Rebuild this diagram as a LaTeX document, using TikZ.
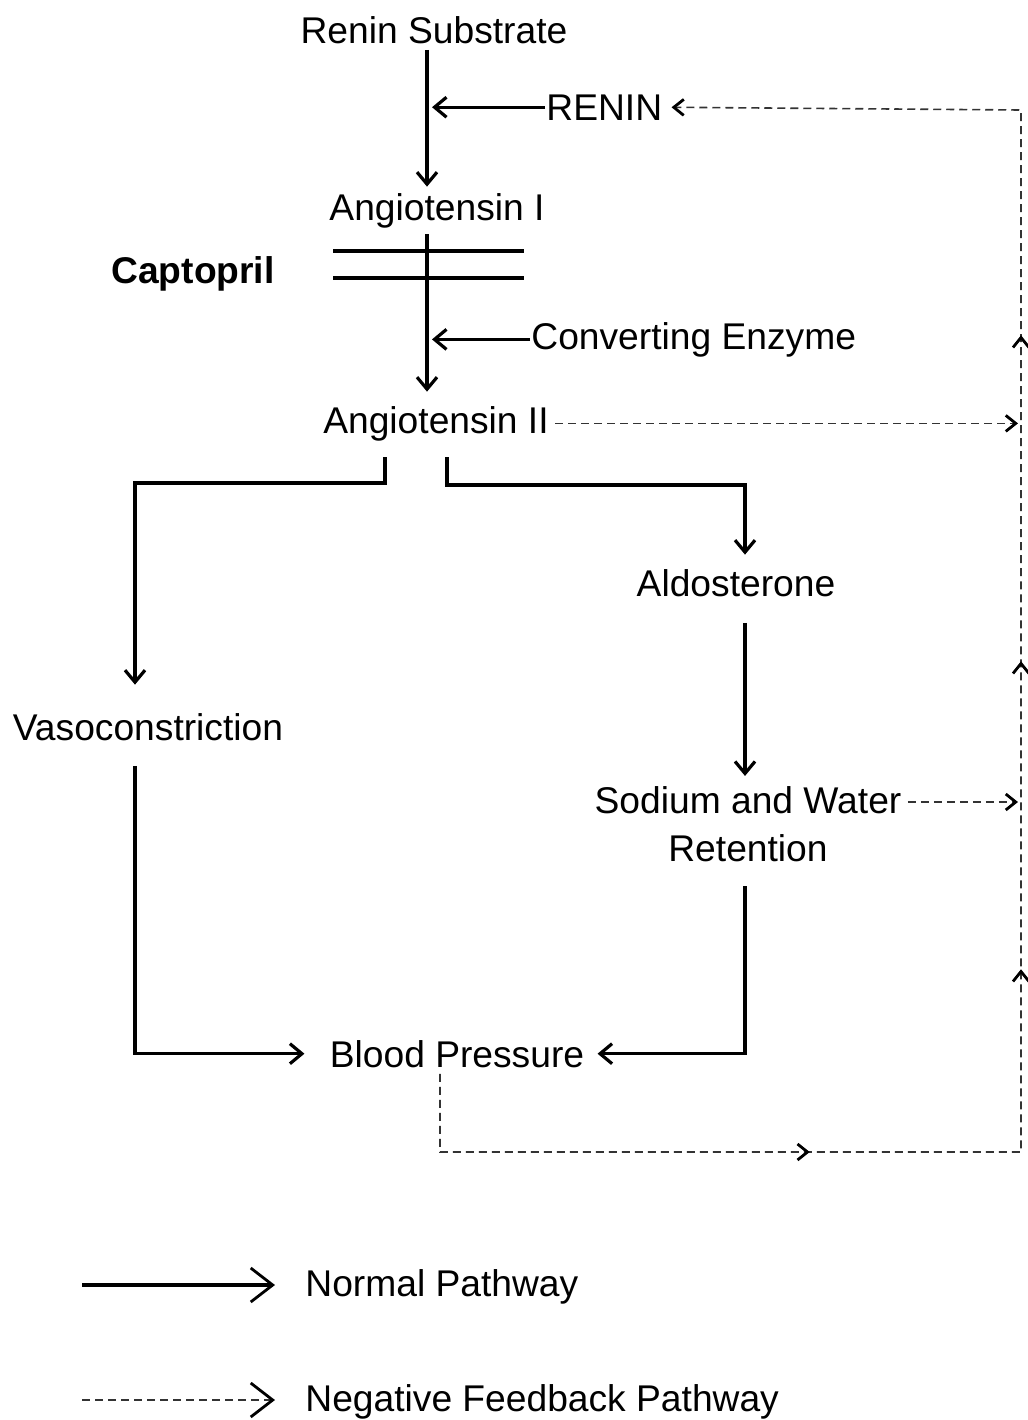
\documentclass[tikz,border=0pt]{standalone}
\usepackage{fontspec}
\setmainfont{Liberation Sans}
\usetikzlibrary{arrows.meta}
\usetikzlibrary{decorations.markings}

\begin{document}
\begin{tikzpicture}[x=0.5pt, y=-0.5pt,
  every node/.style={font=\fontsize{18.6}{24}\selectfont, inner sep=3pt},
  normal/.style={line width=1.6pt, -{Straight Barb[length=6pt,width=10pt,line width=1.6pt]}},
  feedback/.style={line width=0.8pt, dash pattern=on 4pt off 2.5pt, black!80},
  fbtip/.style={-{Straight Barb[length=5pt,width=8pt,line width=1.4pt,color=black]}},
  bigtip/.style={-{Straight Barb[length=11pt,width=17pt,line width=1.4pt,color=black]}}]
\useasboundingbox (0,0) rectangle (1028,1420);

\node[anchor=base] (sub) at (434,43) {Renin Substrate};
\node[anchor=base west, inner xsep=0.5pt] (renin) at (545,120) {RENIN};
\node[anchor=base] (ang1) at (437,220) {Angiotensin I};
\node[anchor=base, font=\fontsize{18.6}{24}\selectfont\bfseries] (capt) at (193,283) {Captopril};
\node[anchor=base west, inner xsep=0.5pt] (enz) at (530,349) {Converting Enzyme};
\node[anchor=base] (ang2) at (436,433) {Angiotensin II};
\node[anchor=base] (aldo) at (736,596) {Aldosterone};
\node[anchor=base] (vaso) at (148,740) {Vasoconstriction};
\node[align=center] (sodium) at (748,824) {Sodium and Water\\Retention};
\node[anchor=base] (bp) at (457,1067) {Blood Pressure};
\node[anchor=base west] (lnorm) at (299,1296) {Normal Pathway};
\node[anchor=base west] (lfb) at (299,1411) {Negative Feedback Pathway};

\coordinate (mx) at (427,0);
\coordinate (bl) at (385,457);
\coordinate (blc) at (135,483);
\coordinate (br) at (447,457);
\coordinate (brc) at (745,485);
\coordinate (rt) at (1021,110);
\coordinate (rb) at (1021,1152);
\coordinate (lb) at (440,1152);
\coordinate (s1) at ([yshift=11pt]sodium.east);
\coordinate (l1) at (82,1285);
\coordinate (l2) at (82,1400);

\draw[normal] (sub.south -| mx) -- (ang1.north -| mx);
\draw[normal, shorten >=2.5pt] (renin.west) -- (renin.west -| mx);
\draw[line width=1.6pt] (333,251) -- (524,251) (333,278) -- (524,278);
\draw[normal, shorten >=4pt] (ang1.south -| mx) -- (ang2.north -| mx);
\draw[normal, shorten >=2.5pt] (enz.west) -- (enz.west -| mx);

\draw[normal, shorten >=11pt] (bl) |- (blc) -- (vaso.north -| blc);
\draw[normal, shorten >=4pt] (br) |- (brc) -- (aldo.north -| brc);
\draw[normal, shorten <=10pt, shorten >=2pt] (aldo.south -| brc) -- (sodium.north -| brc);
\draw[normal, shorten <=9.5pt, shorten >=9.5pt] (vaso.south -| blc) |- (bp.west);
\draw[normal, shorten <=9pt, shorten >=3.5pt] (sodium.south -| brc) |- (bp.east);

\draw[feedback, fbtip, shorten >=1.5pt] (ang2.east) -- (ang2.east -| rt);
\draw[feedback, fbtip, shorten >=1.5pt] (s1) -- (s1 -| rt);
\draw[feedback, fbtip, shorten >=4pt, postaction=decorate, decoration={markings,
    mark=at position 224pt with {\arrow{Straight Barb[length=5pt,width=8pt,line width=1.4pt,color=black]}},
    mark=at position 421pt with {\arrow{Straight Barb[length=5pt,width=8pt,line width=1.4pt,color=black]}},
    mark=at position 575pt with {\arrow{Straight Barb[length=5pt,width=8pt,line width=1.4pt,color=black]}},
    mark=at position 738pt with {\arrow{Straight Barb[length=5pt,width=8pt,line width=1.4pt,color=black]}}}]
  (bp.south -| lb) -- (lb) -- (rb) -- (rt) -- (renin.east);

\draw[normal, bigtip, shorten >=12pt] (l1) -- (lnorm.west |- l1);
\draw[feedback, bigtip, shorten >=12pt] (l2) -- (lfb.west |- l2);
\end{tikzpicture}
\end{document}
